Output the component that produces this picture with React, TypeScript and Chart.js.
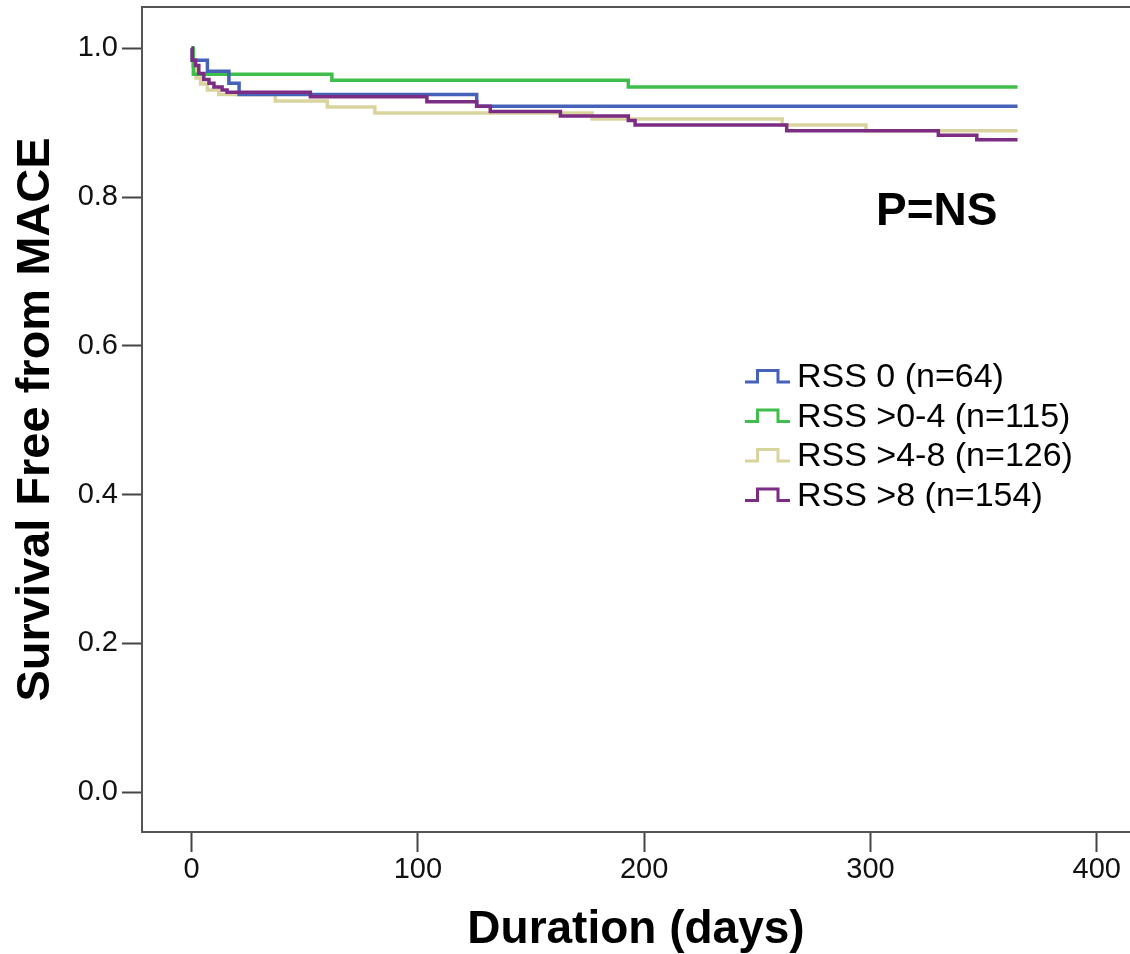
import { useEffect, useRef } from 'react';
import { Chart, registerables } from 'chart.js';

Chart.register(...registerables);

// ---- data ----
const seriesLabels = ['RSS 0 (n=64)', 'RSS >0-4 (n=115)', 'RSS >4-8 (n=126)', 'RSS >8 (n=154)'];
const seriesColors = ['#4561b8', '#3fbe4b', '#d9d49d', '#7d2c84'];

const rss0Days = [0, 0.3, 7, 16.5, 21, 126, 365];
const rss0Surv = [1, 0.984, 0.969, 0.953, 0.938, 0.922, 0.922];

const rss04Days = [0, 0.8, 62, 193, 365];
const rss04Surv = [1, 0.965, 0.957, 0.948, 0.948];

const rss48Days = [0, 0.5, 2, 4, 7, 12, 37, 60, 81, 177, 261, 298, 365];
const rss48Surv = [1, 0.976, 0.96, 0.952, 0.944, 0.938, 0.929, 0.921, 0.913, 0.905, 0.897, 0.889, 0.889];

const rss8Days = [0, 0.3, 1.8, 3.2, 5.4, 7.7, 9.9, 13.5, 15.7, 52.5, 104, 126, 132, 163, 193, 196, 263, 330, 347, 365];
const rss8Surv = [1, 0.984, 0.977, 0.966, 0.958, 0.953, 0.948, 0.944, 0.941, 0.935, 0.928, 0.922, 0.915, 0.909, 0.903, 0.897, 0.889, 0.883, 0.877, 0.877];

const xTickValues = [0, 100, 200, 300, 400];
const yTickValues = [0, 0.2, 0.4, 0.6, 0.8, 1.0];

const xTitle = 'Duration (days)';
const yTitle = 'Survival Free from MACE';
const pValueText = 'P=NS';

const FONT = "'Liberation Sans', Arial, Helvetica, sans-serif";

function toPoints(days: number[], surv: number[]) {
  return days.map((d, i) => ({ x: d, y: surv[i] }));
}

const decorPlugin = {
  id: 'decor',
  afterDraw(chart: any) {
    const { ctx, chartArea } = chart;
    ctx.save();
    // top frame line
    ctx.strokeStyle = '#555';
    ctx.lineWidth = 2;
    ctx.beginPath();
    ctx.moveTo(chartArea.left - 1, chartArea.top);
    ctx.lineTo(chartArea.right, chartArea.top);
    ctx.stroke();

    // P value text
    ctx.fillStyle = '#000';
    ctx.font = `bold 46px ${FONT}`;
    ctx.textAlign = 'left';
    ctx.textBaseline = 'alphabetic';
    ctx.fillText(pValueText, 876, 225);

    // legend
    const baselines = [387, 426.5, 466, 505.5];
    ctx.font = `34px ${FONT}`;
    seriesLabels.forEach((label, i) => {
      const b = baselines[i];
      ctx.strokeStyle = seriesColors[i];
      ctx.lineWidth = 3;
      ctx.beginPath();
      ctx.moveTo(745, b - 5);
      ctx.lineTo(757.5, b - 5);
      ctx.lineTo(757.5, b - 16.5);
      ctx.lineTo(778, b - 16.5);
      ctx.lineTo(778, b - 5);
      ctx.lineTo(790, b - 5);
      ctx.stroke();
      ctx.fillStyle = '#000';
      ctx.fillText(label, 797, b);
    });
    ctx.restore();
  },
};

export default function App() {
  const canvasRef = useRef<HTMLCanvasElement | null>(null);

  useEffect(() => {
    document.body.style.margin = '0';
    const canvas = canvasRef.current;
    if (!canvas) return;

    const series = [
      { days: rss0Days, surv: rss0Surv, order: 1 },
      { days: rss04Days, surv: rss04Surv, order: 2 },
      { days: rss48Days, surv: rss48Surv, order: 3 },
      { days: rss8Days, surv: rss8Surv, order: 0 },
    ];

    const chart = new Chart(canvas, {
      type: 'line',
      data: {
        datasets: series.map((s, i) => ({
          label: seriesLabels[i],
          data: toPoints(s.days, s.surv),
          borderColor: seriesColors[i],
          backgroundColor: seriesColors[i],
          borderWidth: 3.5,
          pointRadius: 0,
          stepped: 'before' as const,
          fill: false,
          order: s.order,
        })),
      },
      options: {
        animation: false,
        responsive: false,
        maintainAspectRatio: false,
        layout: { padding: { top: 7, left: 0, right: 0, bottom: 0 } },
        plugins: {
          legend: { display: false },
          tooltip: { enabled: false },
        },
        scales: {
          x: {
            type: 'linear',
            min: -21.9,
            max: 414.7,
            afterBuildTicks: (scale: any) => {
              scale.ticks = xTickValues.map((v) => ({ value: v }));
            },
            afterFit: (scale: any) => {
              scale.height = 122;
              scale.paddingLeft = 0;
              scale.paddingRight = 0;
            },
            grid: {
              drawOnChartArea: false,
              drawTicks: true,
              tickLength: 20,
              tickColor: '#444',
              tickWidth: 2,
            },
            border: { display: true, color: '#555', width: 2 },
            ticks: {
              padding: 1,
              color: '#111',
              font: { family: FONT, size: 29 },
              maxRotation: 0,
              autoSkip: false,
            },
            title: {
              display: true,
              text: xTitle,
              color: '#000',
              font: { family: FONT, size: 46, weight: 'bold', lineHeight: 1 },
              padding: { top: 0, bottom: 1 },
            },
          },
          y: {
            type: 'linear',
            min: -0.0534,
            max: 1.0555,
            afterBuildTicks: (scale: any) => {
              scale.ticks = yTickValues.map((v) => ({ value: v }));
            },
            afterFit: (scale: any) => {
              scale.width = 142;
              scale.paddingTop = 0;
              scale.paddingBottom = 0;
            },
            grid: {
              drawOnChartArea: false,
              drawTicks: true,
              tickLength: 20,
              tickColor: '#444',
              tickWidth: 2,
            },
            border: { display: true, color: '#555', width: 2 },
            ticks: {
              padding: 4,
              color: '#111',
              font: { family: FONT, size: 29 },
              callback: (v: any) => Number(v).toFixed(1),
            },
            title: {
              display: true,
              text: yTitle,
              color: '#000',
              font: { family: FONT, size: 47, weight: 'bold', lineHeight: 1 },
              padding: { top: 13, bottom: 0 },
            },
          },
        },
      },
      plugins: [decorPlugin],
    });

    return () => {
      chart.destroy();
    };
  }, []);

  return (
    <div style={{ width: 1130, height: 954 }}>
      <canvas ref={canvasRef} width={1130} height={954} style={{ display: 'block', width: 1130, height: 954 }} />
    </div>
  );
}
